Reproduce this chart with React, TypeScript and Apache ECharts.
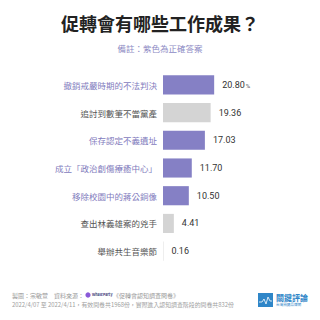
import React, { useEffect, useRef } from "react";
import * as echarts from "echarts";

const categories = [
  "撤銷戒嚴時期的不法判決",
  "追討到數筆不當黨產",
  "保存認定不義遺址",
  "成立「政治創傷療癒中心」",
  "移除校園中的蔣公銅像",
  "查出林義雄案的兇手",
  "舉辦共生音樂節",
];
const values = [20.8, 19.36, 17.03, 11.7, 10.5, 4.41, 0.16];
const correct = [true, false, true, true, true, false, false];

const titleText = "促轉會有哪些工作成果？";
const noteText = "備註：紫色為正確答案";
const footer1 = "製圖：宗敏萱　資料來源：";
const footerSource = "《促轉會認知調查問卷》";
const footer2 = "2022/4/07 至 2022/4/11，有效問卷共1968份，實際進入認知調查階段的問卷共832份";

const PURPLE = "#8580c5";
const GREY_BAR = "#d4d4d4";
const FONT = "'Noto Sans CJK TC', 'Noto Sans', sans-serif";

export default function App() {
  const ref = useRef<HTMLDivElement>(null);
  useEffect(() => {
    if (!ref.current) return;
    const chart = echarts.init(ref.current, null, { renderer: "svg" });
    chart.setOption({
      animation: false,
      backgroundColor: "#ffffff",
      textStyle: { fontFamily: FONT },
      grid: { left: 163, right: 34, top: 71, bottom: 55 },
      xAxis: {
        type: "value",
        min: 0,
        max: 50,
        show: false,
      },
      yAxis: {
        type: "category",
        inverse: true,
        data: categories.map((c, i) => ({
          value: c,
          textStyle: { color: correct[i] ? "#7f7bbd" : "#555555" },
        })),
        axisLine: { show: false },
        axisTick: { show: false },
        axisLabel: { fontSize: 8.5, margin: 6, fontFamily: FONT },
      },
      series: [
        {
          type: "bar",
          barCategoryGap: "31%",
          data: values.map((v, i) => ({
            value: v,
            itemStyle: { color: correct[i] ? PURPLE : GREY_BAR },
          })),
          label: {
            show: true,
            position: "right",
            distance: 8,
            color: "#333333",
            fontSize: 9,
            fontFamily: "Roboto, 'Noto Sans', sans-serif",
            formatter: (p: any) =>
              p.dataIndex === 0
                ? "{a|" + p.value.toFixed(2) + "}{b|%}"
                : p.value.toFixed(2),
            rich: {
              a: { fontSize: 9, color: "#333333", fontFamily: "Roboto, sans-serif" },
              b: { fontSize: 6, color: "#555555", padding: [2, 0, 0, 1] },
            },
          },
        },
      ],
      graphic: [
        {
          type: "text",
          left: "center",
          top: 14,
          style: {
            text: titleText,
            font: "bold 18px " + FONT,
            fill: "#222222",
          },
        },
        {
          type: "text",
          left: "center",
          top: 44,
          style: {
            text: noteText,
            font: "8.5px " + FONT,
            fill: "#8d8ac4",
          },
        },
        {
          type: "text",
          x: 12,
          y: 292,
          style: { text: footer1, font: "6px " + FONT, fill: "#9a9a9a" },
        },
        {
          type: "circle",
          shape: { cx: 88, cy: 295, r: 2.6 },
          style: { fill: "#8a5ad8" },
        },
        {
          type: "text",
          x: 92,
          y: 293,
          style: { text: "WhaleParty", font: "bold 3.6px " + FONT, fill: "#3a3a7a" },
        },
        {
          type: "text",
          x: 113,
          y: 292,
          style: { text: footerSource, font: "6px " + FONT, fill: "#9a9a9a" },
        },
        {
          type: "text",
          x: 12,
          y: 302,
          style: { text: footer2, font: "5.9px " + FONT, fill: "#a0a0a0" },
        },
        {
          type: "rect",
          shape: { x: 258, y: 293, width: 15, height: 14 },
          style: { fill: "#2f86c8" },
        },
        {
          type: "polyline",
          shape: {
            points: [
              [259, 302],
              [262, 302],
              [264, 299],
              [266, 304],
              [268, 297],
              [270, 301],
              [272, 301],
            ],
          },
          style: { stroke: "#ffffff", lineWidth: 0.8, fill: "none" },
        },
        {
          type: "text",
          x: 276,
          y: 293,
          style: { text: "關鍵評論", font: "bold 8px " + FONT, fill: "#2f86c8" },
        },
        {
          type: "text",
          x: 276,
          y: 303,
          style: { text: "台灣關鍵品牌網", font: "3.6px " + FONT, fill: "#2f86c8" },
        },
      ],
    });
    return () => chart.dispose();
  }, []);
  return (
    <div
      ref={ref}
      style={{ position: "fixed", left: 0, top: 0, width: 320, height: 320 }}
    />
  );
}
